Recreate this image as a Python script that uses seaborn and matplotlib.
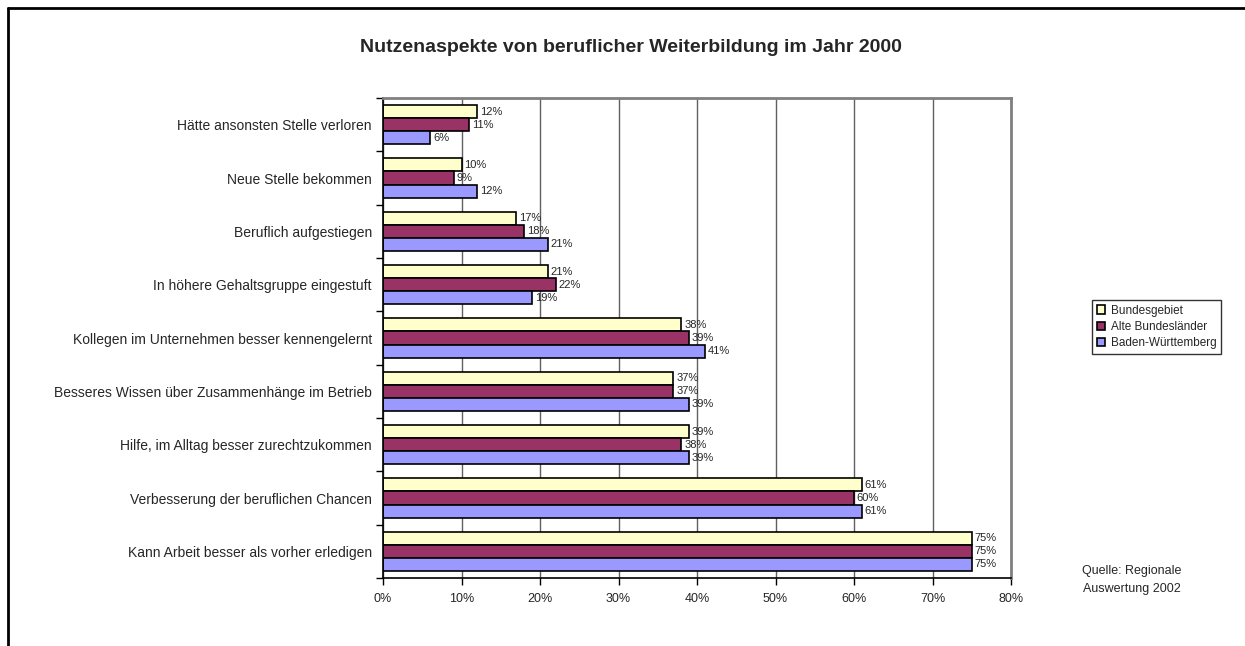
import pandas as pd
import matplotlib
matplotlib.use("Agg")
import matplotlib.pyplot as plt
import seaborn as sns
from matplotlib.lines import Line2D
from matplotlib.ticker import FixedLocator

# ---------------- DATEN ----------------
kategorien = [
    "Hätte ansonsten Stelle verloren",
    "Neue Stelle bekommen",
    "Beruflich aufgestiegen",
    "In höhere Gehaltsgruppe eingestuft",
    "Kollegen im Unternehmen besser kennengelernt",
    "Besseres Wissen über Zusammenhänge im Betrieb",
    "Hilfe, im Alltag besser zurechtzukommen",
    "Verbesserung der beruflichen Chancen",
    "Kann Arbeit besser als vorher erledigen",
]
regionen = ["Bundesgebiet", "Alte Bundesländer", "Baden-Württemberg"]
bundesgebiet = [12, 10, 17, 21, 38, 37, 39, 61, 75]
alte_laender = [11, 9, 18, 22, 39, 37, 38, 60, 75]
baden_wuertt = [6, 12, 21, 19, 41, 39, 39, 61, 75]
x_ticks = [0, 10, 20, 30, 40, 50, 60, 70, 80]
farben = ["#FFFFCC", "#993366", "#9999FF"]

titel = "Nutzenaspekte von beruflicher Weiterbildung im Jahr 2000"
quelle = "Quelle: Regionale\nAuswertung 2002"

df = pd.DataFrame({
    "Kategorie": kategorien * 3,
    "Wert": bundesgebiet + alte_laender + baden_wuertt,
    "Region": [regionen[0]] * 9 + [regionen[1]] * 9 + [regionen[2]] * 9,
})

sns.set_style("white")
plt.rcParams["font.family"] = ["Liberation Sans", "DejaVu Sans"]

fig = plt.figure(figsize=(12.45, 6.46), dpi=100)
ax = fig.add_axes([383 / 1245, 1 - 578 / 646, 628 / 1245, 480 / 646])

sns.barplot(data=df, y="Kategorie", x="Wert", hue="Region", orient="h",
            palette=farben, saturation=1, edgecolor="black", linewidth=1.2,
            width=0.74, ax=ax, legend=True)

# Prozentwerte an den Balken
for cont in ax.containers:
    werte = [b.get_width() for b in cont]
    ax.bar_label(cont, labels=[f"{int(round(v))}%" for v in werte],
                 padding=2, fontsize=8)

ax.set_xlim(0, 80)
ax.set_ylim(8.5, -0.5)
ax.set_xticks(x_ticks)
ax.set_xticklabels([f"{t}%" for t in x_ticks], fontsize=9)
ax.set_xlabel("")
ax.set_ylabel("")
ax.tick_params(axis="y", which="major", length=0, labelsize=10, pad=8)
ax.yaxis.set_minor_locator(FixedLocator([i - 0.5 for i in range(10)]))
ax.tick_params(axis="y", which="minor", length=5, width=1, color="black")
ax.tick_params(axis="x", which="major", length=5, width=1, color="black",
               direction="out", labelsize=9, pad=6)
ax.tick_params(bottom=True, left=False)
ax.tick_params(axis="y", which="minor", left=True)

ax.grid(axis="x", color="#606060", linewidth=1)
ax.set_axisbelow(True)
for s in ["left", "bottom"]:
    ax.spines[s].set_color("black")
    ax.spines[s].set_linewidth(1.2)
for s in ["top", "right"]:
    ax.spines[s].set_color("#808080")
    ax.spines[s].set_linewidth(2)

handles, labels = ax.get_legend_handles_labels()
ax.get_legend().remove()
leg = fig.legend(handles, labels, loc="upper left",
                 bbox_to_anchor=(1092 / 1245, 1 - 300 / 646),
                 borderaxespad=0, fontsize=8.5, frameon=True, fancybox=False,
                 handlelength=0.7, handleheight=0.7, handletextpad=0.5,
                 borderpad=0.4, labelspacing=0.35)
leg.get_frame().set_edgecolor("black")
leg.get_frame().set_linewidth(1)

fig.text(631 / 1245, 1 - 48 / 646, titel, ha="center", va="center",
         fontsize=14, fontweight="bold")
fig.text(1132 / 1245, 1 - 580 / 646, quelle, ha="center", va="center",
         fontsize=9, linespacing=1.7)

# Rahmen des Diagrammbereichs (oben und links sichtbar)
fig.add_artist(Line2D([8 / 1245, 1], [1 - 8 / 646, 1 - 8 / 646],
                      color="black", linewidth=2, transform=fig.transFigure))
fig.add_artist(Line2D([8 / 1245, 8 / 1245], [0, 1 - 8 / 646],
                      color="black", linewidth=2, transform=fig.transFigure))

fig.savefig("out.png", dpi=100)
